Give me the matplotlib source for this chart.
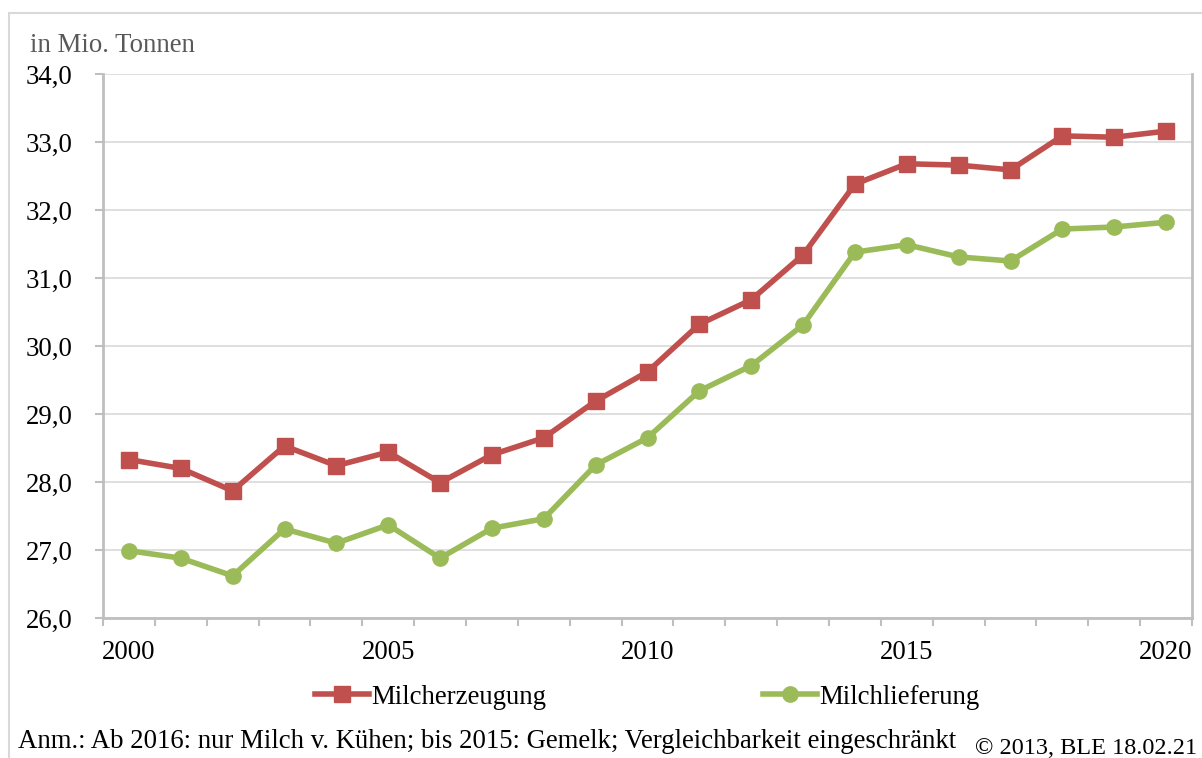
import matplotlib.pyplot as plt
from matplotlib.patches import Rectangle

# Milch, Deutschland, in Mio. Tonnen
jahre = list(range(2000, 2021))
milcherzeugung = [28.33, 28.20, 27.87, 28.53, 28.24, 28.44, 27.99, 28.40, 28.65, 29.19,
                  29.62, 30.32, 30.68, 31.34, 32.38, 32.68, 32.66, 32.59, 33.09, 33.07, 33.16]
milchlieferung = [26.99, 26.88, 26.62, 27.31, 27.10, 27.37, 26.88, 27.32, 27.46, 28.25,
                  28.65, 29.34, 29.71, 30.31, 31.38, 31.49, 31.31, 31.25, 31.72, 31.75, 31.82]
y_ticks = [26, 27, 28, 29, 30, 31, 32, 33, 34]
x_labels = ["2000", "2005", "2010", "2015", "2020"]

plt.rcParams['font.family'] = ['Liberation Serif', 'DejaVu Serif']

rot = "#C0504D"
gruen = "#9BBB59"
grau = "#BFBFBF"
fs = 19.3

fig = plt.figure(figsize=(12.02, 7.58), dpi=100)
ax = fig.add_axes([103/1202, 1 - 618/758, (1192 - 103)/1202, (618 - 74)/758])

# rahmen um die ganze grafik (nur links und oben sichtbar)
fig.patches.append(Rectangle((9/1202, -0.5), 2, 1.5 - 13/758, transform=fig.transFigure,
                             fill=False, edgecolor="#D9D9D9", linewidth=1.5))

pos = list(range(len(jahre)))
ax.plot(pos, milcherzeugung, color=rot, lw=4, marker="s", markersize=11,
        label="Milcherzeugung", zorder=3)
ax.plot(pos, milchlieferung, color=gruen, lw=4, marker="o", markersize=11,
        label="Milchlieferung", zorder=3)

ax.set_xlim(-0.5, len(jahre) - 0.5)
ax.set_ylim(26, 34)
ax.set_yticks(y_ticks)
ax.set_yticklabels([f"{v},0" for v in y_ticks])
ax.yaxis.grid(True, color="#D9D9D9", lw=1.2)
ax.set_axisbelow(True)

# ticks an den kategoriegrenzen, beschriftung in der mitte
ax.set_xticks([jahre.index(int(s)) for s in x_labels])
ax.set_xticklabels(x_labels)
ax.set_xticks([p - 0.5 for p in pos] + [len(jahre) - 0.5], minor=True)
ax.tick_params(axis="x", which="major", length=0, pad=16, labelsize=fs)
ax.tick_params(axis="x", which="minor", length=6, width=1.5, color=grau)
ax.tick_params(axis="y", length=6, width=1.5, color=grau, pad=16, labelsize=fs)

for s in ["left", "bottom", "right"]:
    ax.spines[s].set_color(grau)
    ax.spines[s].set_linewidth(2)
ax.spines["top"].set_visible(False)

fig.text(30/1202, 1 - 45/758, "in Mio. Tonnen", color="#595959", fontsize=fs,
         ha="left", va="center")

fig.legend(loc="center", bbox_to_anchor=(647.5/1202, 1 - 697/758), ncol=2, frameon=False,
           fontsize=fs, handlelength=2.0, handletextpad=0.1, columnspacing=8.1,
           numpoints=1)

fig.text(18/1202, 1 - 742/758,
         "Anm.: Ab 2016: nur Milch v. Kühen; bis 2015: Gemelk; Vergleichbarkeit eingeschränkt",
         fontsize=fs, ha="left", va="center")
fig.text(1197/1202, 1 - 748/758, "© 2013, BLE 18.02.21", fontsize=17.5,
         ha="right", va="center")

fig.savefig("out.png", dpi=100)
